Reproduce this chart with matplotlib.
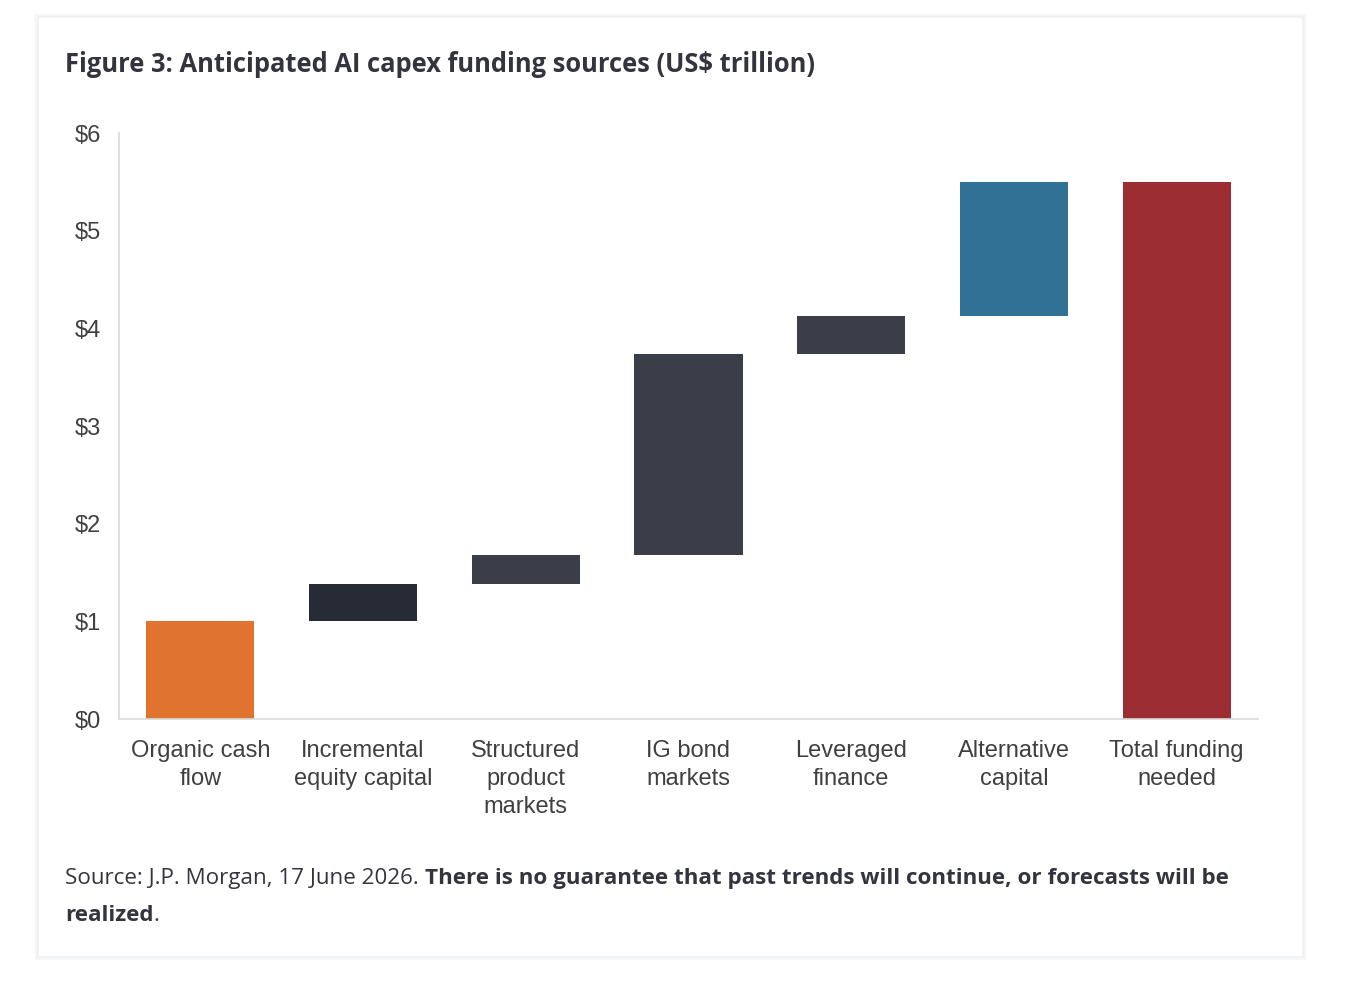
import matplotlib
matplotlib.use("Agg")
import matplotlib.pyplot as plt
from matplotlib.patches import Rectangle
import numpy as np

categories = ["Organic cash\nflow", "Incremental\nequity capital", "Structured\nproduct\nmarkets",
              "IG bond\nmarkets", "Leveraged\nfinance", "Alternative\ncapital", "Total funding\nneeded"]
increments = [1.0, 0.38, 0.30, 2.06, 0.39, 1.37]
bar_colors = ["#E0732E", "#272B36", "#3B3E48", "#3B3E48", "#3B3E48", "#317195", "#9B2D33"]
yticks = [0, 1, 2, 3, 4, 5, 6]
ytick_labels = ["$0", "$1", "$2", "$3", "$4", "$5", "$6"]

title = "Figure 3: Anticipated AI capex funding sources (US$ trillion)"
src_normal = "Source: J.P. Morgan, 17 June 2026. "
src_bold1 = "There is no guarantee that past trends will continue, or forecasts will be"
src_bold2 = "realized"

W, H = 1354, 996
fig = plt.figure(figsize=(W / 100, H / 100), dpi=100)
fig.patch.set_facecolor("white")

# card with soft edge
shadow = Rectangle((37 / W, 1 - 958 / H), (1304 - 37) / W, (958 - 16) / H,
                   transform=fig.transFigure, facecolor="none", edgecolor="#F5F6F8",
                   linewidth=3, zorder=-6)
fig.patches.append(shadow)
card = Rectangle((38 / W, 1 - 957 / H), (1303 - 38) / W, (957 - 17) / H,
                 transform=fig.transFigure, facecolor="white", edgecolor="#EFF1F4",
                 linewidth=1.2, zorder=-5)
fig.patches.append(card)

ax = fig.add_axes([119 / W, 1 - 719 / H, (1258 - 119) / W, (719 - 133) / H])
ax.set_facecolor("none")
ax.set_zorder(2)

cum = np.cumsum(increments)
bottoms = list(np.concatenate([[0], cum[:-1]])) + [0]
heights = list(increments) + [cum[-1]]
x = np.arange(len(categories))
ax.bar(x, heights, bottom=bottoms, width=0.665, color=bar_colors, zorder=2)

ax.set_xlim(-0.5, len(categories) - 0.5)
ax.set_ylim(0, 6)
ax.set_yticks(yticks)
ax.set_yticklabels(ytick_labels)
ax.set_xticks(x)
ax.set_xticklabels(categories, linespacing=1.36)
for lab in ax.get_xticklabels() + ax.get_yticklabels():
    lab.set_fontfamily("Liberation Sans")
    lab.set_fontsize(17)
    lab.set_color("#404040")
ax.tick_params(axis="both", length=0)
ax.tick_params(axis="x", pad=15)
ax.tick_params(axis="y", pad=13)
for s in ["top", "right"]:
    ax.spines[s].set_visible(False)
for s in ["left", "bottom"]:
    ax.spines[s].set_color("#D9D9D9")
    ax.spines[s].set_linewidth(1.2)

fig.text(65 / W, 1 - 65 / H, title, fontfamily="Open Sans", fontweight="bold",
         fontsize=18.4, color="#33343D", va="center", ha="left")

# source text
fs = 16.1
fig.canvas.draw()
renderer = fig.canvas.get_renderer()
t1 = fig.text(65 / W, 1 - 878 / H, src_normal, fontfamily="Open Sans", fontsize=fs,
              color="#33343D", va="center", ha="left")
bb = t1.get_window_extent(renderer)
fig.text(bb.x1 / W, 1 - 878 / H, src_bold1, fontfamily="Open Sans", fontweight="bold",
         fontsize=fs, color="#33343D", va="center", ha="left")
t3 = fig.text(65 / W, 1 - 915 / H, src_bold2, fontfamily="Open Sans", fontweight="bold",
              fontsize=fs, color="#33343D", va="center", ha="left")
bb3 = t3.get_window_extent(renderer)
fig.text(bb3.x1 / W, 1 - 915 / H, ".", fontfamily="Open Sans", fontsize=fs,
         color="#33343D", va="center", ha="left")

fig.savefig("out.png", dpi=100, facecolor=fig.get_facecolor())
